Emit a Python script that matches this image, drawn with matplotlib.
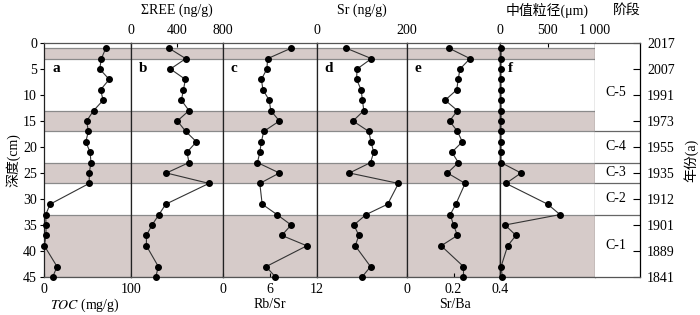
import matplotlib
matplotlib.use("Agg")
import matplotlib.pyplot as plt

plt.rcParams['font.family'] = ['Liberation Serif', 'Noto Sans CJK SC', 'DejaVu Sans']
plt.rcParams['mathtext.fontset'] = 'stix'

# ---------------- data ----------------
depth = [1, 3, 5, 7, 9, 11, 13, 15, 17, 19, 21, 23, 25, 27, 31, 33, 35, 37, 39, 43, 45]
toc = [71, 66, 64, 75, 65, 68, 57, 49, 51, 48, 53, 54, 52, 52, 7, 2, 2.3, 2.3, 0.4, 15, 10]
ree = [330, 476, 343, 473, 456, 438, 504, 403, 476, 569, 487, 504, 308, 678, 302, 243, 183, 134, 134, 238, 215]
rbsr = [8.7, 5.7, 5.6, 4.9, 5.1, 5.9, 6.1, 7.2, 5.2, 4.9, 4.7, 4.4, 7.2, 4.7, 5.0, 6.9, 8.7, 7.5, 10.7, 5.5, 6.7]
sr = [65, 121, 89, 88, 98, 101, 104, 80, 115, 120, 126, 119, 72, 181, 157, 109, 82, 93, 85, 119, 100]
srba = [0.181, 0.271, 0.228, 0.220, 0.214, 0.164, 0.217, 0.183, 0.217, 0.238, 0.193, 0.221, 0.174, 0.250, 0.210, 0.186, 0.200, 0.217, 0.147, 0.243, 0.243]
grain = [12, 11, 10, 10, 11, 10, 12, 11, 10, 11, 11, 11, 221, 63, 502, 632, 53, 168, 81, 11, 25]

bands = [(1, 3), (13, 17), (23, 27), (33, 45)]
stage_bounds = [17, 23, 27, 33]
stage_names = ['C-5', 'C-4', 'C-3', 'C-2', 'C-1']
stage_pos = [9.5, 20, 25, 30, 39]
year_depth = [0, 5, 10, 15, 20, 25, 30, 35, 40, 45]
year_labels = ['2017', '2007', '1991', '1973', '1955', '1935', '1912', '1901', '1889', '1841']
depth_ticks = [0, 5, 10, 15, 20, 25, 30, 35, 40, 45]

panels = [
    dict(data=toc, lim=(0, 100), ticks=[0, 100], labels=['0', '100'], side='bottom', letter='a'),
    dict(data=ree, lim=(0, 800), ticks=[0, 400, 800], labels=['0', '400', '800'], side='top', letter='b'),
    dict(data=rbsr, lim=(0, 12), ticks=[0, 6, 12], labels=['0', '6', '12'], side='bottom', letter='c'),
    dict(data=sr, lim=(0, 200), ticks=[0, 200], labels=['0', '200'], side='top', letter='d'),
    dict(data=srba, lim=(0, 0.4), ticks=[0, 0.2, 0.4], labels=['0', '0.2', '0.4'], side='bottom', letter='e'),
    dict(data=grain, lim=(0, 1000), ticks=[0, 500, 1000], labels=['0', '500', '1 000'], side='top', letter='f'),
]

W, H = 700, 315
fig = plt.figure(figsize=(7, 3.15), dpi=100)
edges = [44, 131, 223, 317, 407, 500, 595, 640]
ytop, ybot = 43, 277
fy0 = 1 - ybot / H
fh = (ybot - ytop) / H

band_col = '#d6cbc9'
edge_col = '#8a8a8a'
fs = 10

axes = []
for i, p in enumerate(panels):
    x0, x1 = edges[i], edges[i + 1]
    ax = fig.add_axes([x0 / W, fy0, (x1 - x0) / W, fh])
    axes.append(ax)
    ax.set_ylim(45, 0)
    ax.set_xlim(*p['lim'])
    for (a, b) in bands:
        ax.axhspan(a, b, color=band_col, lw=0, zorder=0)
        ax.axhline(a, color=edge_col, lw=0.9, zorder=1)
        ax.axhline(b, color=edge_col, lw=0.9, zorder=1)
    ax.plot(p['data'], depth, color='#333333', lw=0.8, marker='o', ms=4,
            mfc='black', mec='black', zorder=3, clip_on=False)
    for s in ['left', 'right']:
        ax.spines[s].set_linewidth(0.9)
        ax.spines[s].set_color('#222222')
    ax.spines['top'].set_linewidth(0.9)
    ax.spines['bottom'].set_linewidth(0.9)
    ax.spines['top'].set_color('#555555')
    ax.spines['bottom'].set_color('#555555')
    ax.set_xticks(p['ticks'])
    ax.set_xticklabels(p['labels'], fontsize=fs)
    if p['side'] == 'top':
        ax.xaxis.tick_top()
        ax.xaxis.set_label_position('top')
    ax.tick_params(axis='x', direction='in', length=3, width=0.8, pad=4)
    ax.text(0.1 if i == 0 else 0.08, 5, p['letter'], transform=ax.get_yaxis_transform(),
            fontsize=11, fontweight='bold', va='center', ha='left')
    if i == 0:
        ax.set_yticks(depth_ticks)
        ax.tick_params(axis='y', direction='out', length=3, width=0.8, labelsize=fs, pad=2)
        ax.set_ylabel('深度(cm)', fontsize=fs, labelpad=2)
    else:
        ax.set_yticks([])

axes[5].spines['right'].set_color('#555555')
axes[4].plot([0.4, 0.4], [0, 45], color='#222222', lw=1.0, zorder=2)

# stage column
sax = fig.add_axes([edges[6] / W, fy0, (edges[7] - edges[6]) / W, fh])
sax.set_ylim(45, 0)
sax.set_xlim(0, 1)
sax.set_xticks([])
for b in stage_bounds:
    sax.axhline(b, color='#666666', lw=0.9)
for name, pos in zip(stage_names, stage_pos):
    sax.text(0.47, pos, name, ha='center', va='center', fontsize=fs)
sax.yaxis.tick_right()
sax.yaxis.set_label_position('right')
sax.set_yticks(year_depth)
sax.set_yticklabels(year_labels, fontsize=fs)
sax.tick_params(axis='y', direction='in', length=5, width=0.8, pad=5)
sax.set_ylabel('年份(a)', fontsize=fs, labelpad=6, rotation=90)
for s in ['left']:
    sax.spines[s].set_visible(False)
sax.spines['right'].set_linewidth(0.9)
sax.spines['top'].set_linewidth(0.9)
sax.spines['bottom'].set_linewidth(0.9)
sax.spines['top'].set_color('#555555')
sax.spines['bottom'].set_color('#555555')

# titles / axis labels
def ftext(x, y, s, **kw):
    fig.text(x / W, 1 - y / H, s, ha='center', va='center', fontsize=fs, **kw)

ftext(177, 10, 'ΣREE (ng/g)')
ftext(362, 10, 'Sr (ng/g)')
ftext(547, 10, '中值粒径(μm)')
ftext(627, 10, '阶段')
ftext(85, 305, r'$\mathit{TOC}$ (mg/g)')
ftext(270, 305, 'Rb/Sr')
ftext(455, 305, 'Sr/Ba')

fig.savefig('out.png', dpi=100)
